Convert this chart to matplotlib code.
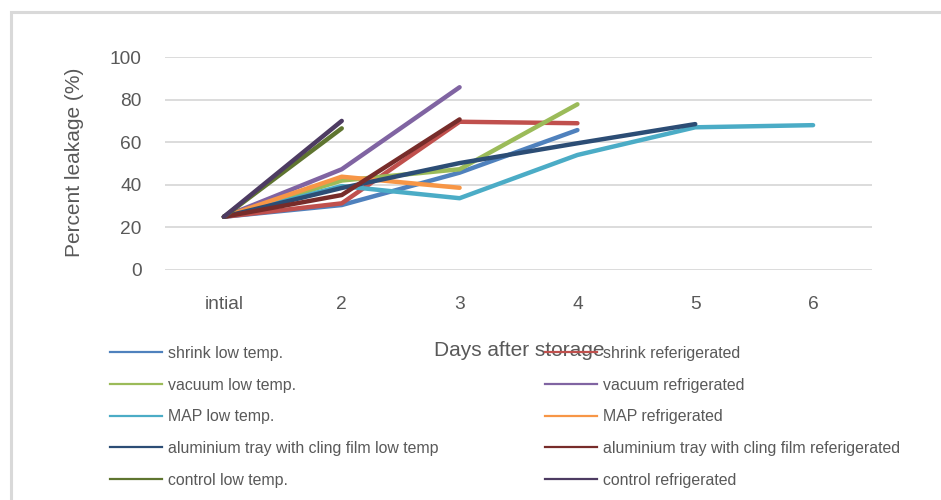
import numpy as np
import matplotlib
matplotlib.use("Agg")
import matplotlib.pyplot as plt
from matplotlib.lines import Line2D
from matplotlib.patches import Rectangle

categories = ["intial", "2", "3", "4", "5", "6"]
nan = np.nan

shrink_low = [25, 30.5, 45.7, 65.7, nan, nan]
shrink_ref = [25, 31.3, 69.6, 68.9, nan, nan]
vacuum_low = [25, 42, 47.3, 77.8, nan, nan]
vacuum_ref = [25, 47.3, 85.8, nan, nan, nan]
map_low = [25, 39.4, 33.7, 54, 67, 68]
map_ref = [25, 43.8, 38.6, nan, nan, nan]
alu_low = [25, 38.5, 50.2, 59.5, 68.5, nan]
alu_ref = [25, 35.2, 70.7, nan, nan, nan]
control_low = [25, 66.5, nan, nan, nan, nan]
control_ref = [25, 70, nan, nan, nan, nan]

series_names = [
    "shrink low temp.", "shrink referigerated",
    "vacuum low temp.", "vacuum refrigerated",
    "MAP low temp.", "MAP refrigerated",
    "aluminium tray with cling film low temp", "aluminium tray with cling film referigerated",
    "control low temp.", "control refrigerated",
]
series_values = [shrink_low, shrink_ref, vacuum_low, vacuum_ref, map_low, map_ref,
                 alu_low, alu_ref, control_low, control_ref]
colors = ["#4F81BD", "#C0504D", "#9BBB59", "#8064A2", "#4BACC6", "#F79646",
          "#2C4D75", "#772C2A", "#5F7530", "#4D3B62"]

plt.rcParams['font.family'] = ['Liberation Sans', 'DejaVu Sans']
text_color = "#595959"

W, H = 941, 500
fig = plt.figure(figsize=(W / 100, H / 100), dpi=100)

# outer chart border (right and bottom edges lie outside the picture)
fig.add_artist(Rectangle((10.5 / W, -20 / H), (980 - 10.5) / W, (H - 11.5 + 20) / H,
                         transform=fig.transFigure, fill=False, edgecolor="#D9D9D9",
                         linewidth=2.2))

ax = fig.add_axes([165 / W, 1 - 270 / H, (872 - 165) / W, (270 - 57) / H])
x = np.arange(len(categories))
handles = []
for name, vals, c in zip(series_names, series_values, colors):
    ax.plot(x, np.array(vals, dtype=float), color=c, linewidth=3.2,
            solid_capstyle='round', solid_joinstyle='round')
    handles.append(Line2D([], [], color=c, linewidth=1.6, label=name))

ax.set_xlim(-0.5, 5.5)
ax.set_ylim(0, 100)
ax.set_yticks(np.arange(0, 101, 20))
ax.set_xticks(x)
ax.set_xticklabels(categories)
ax.grid(axis='y', color="#D9D9D9", linewidth=1.3)
ax.set_axisbelow(True)
for s in ax.spines.values():
    s.set_visible(False)
ax.tick_params(axis='both', length=0, labelsize=13.8, colors=text_color)
ax.tick_params(axis='y', pad=17)
ax.tick_params(axis='x', pad=19)

fig.text(75 / W, 1 - 162 / H, "Percent leakage (%)", rotation=90, ha='center', va='center',
         fontsize=15, color=text_color)
fig.text(519 / W, 1 - 350 / H, "Days after storage", ha='center', va='center',
         fontsize=15, color=text_color)

leg_kw = dict(frameon=False, fontsize=11.4, handlelength=3.3, handletextpad=0.35,
              labelspacing=1.05, borderpad=0, borderaxespad=0, labelcolor=text_color)
left_h = handles[0::2]
right_h = handles[1::2]
leg1 = fig.legend(handles=left_h, loc='upper left', bbox_to_anchor=(110 / W, 1 - 346 / H), **leg_kw)
leg2 = fig.legend(handles=right_h, loc='upper left', bbox_to_anchor=(545 / W, 1 - 346 / H), **leg_kw)

fig.savefig("out.png", dpi=100)
